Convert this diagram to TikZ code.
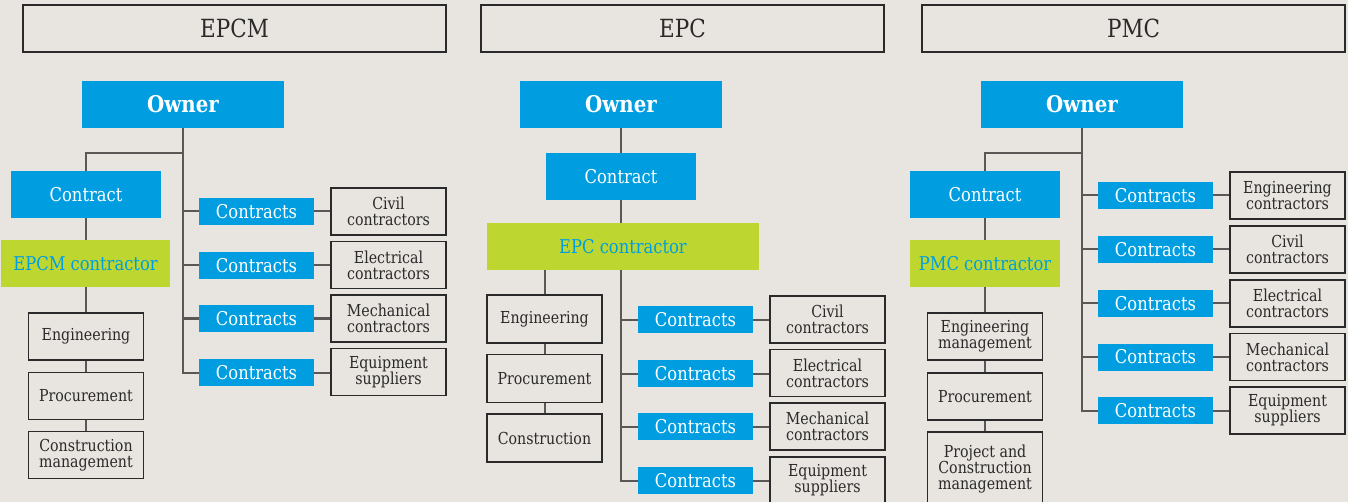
\documentclass[tikz,border=0pt]{standalone}
\usepackage{fontspec}
\setmainfont{DejaVu Serif}[FakeStretch=0.86]
\usetikzlibrary{calc}
\definecolor{bg}{HTML}{E8E4DF}
\definecolor{cblue}{HTML}{009EE0}
\definecolor{cgreen}{HTML}{BED730}
\definecolor{ink}{HTML}{2A2A2A}
\definecolor{wire}{HTML}{5A5856}
\tikzset{
  box/.style={draw=ink, line width=1.3pt, fill=none, inner sep=0pt, align=center, text=ink,
    minimum width=115pt, minimum height=47pt, font=\fontsize{16.5}{16}\selectfont},
  hdr/.style={draw=ink, line width=1.3pt, inner sep=0pt, text=ink, minimum height=47pt,
    font=\fontsize{25}{26}\selectfont},
  owner/.style={fill=cblue, inner sep=0pt, text=white, minimum width=202pt, minimum height=47pt,
    font=\fontsize{23}{24}\selectfont\bfseries},
  contract/.style={fill=cblue, inner sep=0pt, text=white, minimum width=150pt, minimum height=47pt,
    font=\fontsize{19}{20}\selectfont},
  contracts/.style={fill=cblue, inner sep=0pt, text=white, minimum width=115pt, minimum height=27pt,
    font=\fontsize{19}{20}\selectfont},
  green/.style={fill=cgreen, inner sep=0pt, text=cblue, minimum height=47pt,
    font=\fontsize{19}{20}\selectfont},
  wire/.style={draw=wire, line width=2pt}
}
\begin{document}
\begin{tikzpicture}[x=1pt,y=-1pt]
\useasboundingbox (0,0) rectangle (1348,502);
\fill[bg] (0,0) rectangle (1348,502);

% headers
\node[hdr, minimum width=423pt] (h1) at (234.5,28.5) {EPCM};
\node[hdr, minimum width=403pt] (h2) at (682.5,28.5) {EPC};
\node[hdr, minimum width=423pt] (h3) at (1133.5,28.5) {PMC};

% ===== EPCM =====
\node[owner] (o1) at (183,104.5) {Owner};
\node[contract] (c1) at (86,194.5) {Contract};
\node[green, minimum width=169pt] (g1) at (85.5,263.5) {EPCM contractor};
\node[box] (e1) at (86,336.5) {Engineering};
\node[box] (p1) at (86,396) {Procurement};
\node[box] (m1) at (86,455) {Construction\\management};
\node[contracts] (k11) at (256.5,211.5) {Contracts};
\node[contracts] (k12) at (256.5,265.5) {Contracts};
\node[contracts] (k13) at (256.5,318.5) {Contracts};
\node[contracts] (k14) at (256.5,372.5) {Contracts};
\node[box] (r11) at (388.5,211.5) {Civil\\contractors};
\node[box] (r12) at (388.5,265) {Electrical\\contractors};
\node[box] (r13) at (388.5,318.5) {Mechanical\\contractors};
\node[box] (r14) at (388.5,372) {Equipment\\suppliers};

\draw[wire] (o1.south) |- (k14.west);
\foreach \i in {1,2,3} {\draw[wire] (o1.south |- k1\i.west) -- (k1\i.west);}
\foreach \i in {1,2,3,4} {\draw[wire] (k1\i.east) -- (k1\i.east -| r1\i.west);}
\draw[wire] (o1.south) -- ++(0,24.5) -| (c1.north);
\draw[wire] (c1.south) -- (c1.south |- g1.north);
\draw[wire] (c1.south |- g1.south) -- (c1.south |- e1.north);
\draw[wire] (e1) -- (p1);
\draw[wire] (p1) -- (m1);

% ===== EPC =====
\node[owner] (o2) at (621,104.5) {Owner};
\node[contract] (c2) at (621,176.5) {Contract};
\node[green, minimum width=272pt] (g2) at (623,246.5) {EPC contractor};
\node[box, minimum height=48pt] (e2) at (544.5,319) {Engineering};
\node[box, minimum height=48pt] (p2) at (544.5,378.5) {Procurement};
\node[box, minimum height=48pt] (m2) at (544.5,438) {Construction};
\node[contracts] (k21) at (695.5,319.5) {Contracts};
\node[contracts] (k22) at (695.5,373.5) {Contracts};
\node[contracts] (k23) at (695.5,426.5) {Contracts};
\node[contracts] (k24) at (695.5,480.5) {Contracts};
\node[box] (r21) at (827.5,319.5) {Civil\\contractors};
\node[box] (r22) at (827.5,373) {Electrical\\contractors};
\node[box] (r23) at (827.5,426.5) {Mechanical\\contractors};
\node[box] (r24) at (827.5,480.5) {Equipment\\suppliers};

\draw[wire] (o2) -- (c2);
\draw[wire] (c2) -- (c2.south |- g2.north);
\draw[wire] (c2.south |- g2.south) |- (k24.west);
\foreach \i in {1,2,3} {\draw[wire] (c2.south |- k2\i.west) -- (k2\i.west);}
\foreach \i in {1,2,3,4} {\draw[wire] (k2\i.east) -- (k2\i.east -| r2\i.west);}
\draw[wire] (e2.north |- g2.south) -- (e2.north);
\draw[wire] (e2) -- (p2);
\draw[wire] (p2) -- (m2);

% ===== PMC =====
\node[owner] (o3) at (1082,104.5) {Owner};
\node[contract] (c3) at (985,194.5) {Contract};
\node[green, minimum width=150pt] (g3) at (985,263.5) {PMC contractor};
\node[box] (e3) at (985,336.5) {Engineering\\management};
\node[box] (p3) at (985,396.5) {Procurement};
\node[box, minimum height=74pt] (m3) at (985,469) {Project and\\Construction\\management};
\node[contracts] (k31) at (1155.5,195.5) {Contracts};
\node[contracts] (k32) at (1155.5,249.5) {Contracts};
\node[contracts] (k33) at (1155.5,303.5) {Contracts};
\node[contracts] (k34) at (1155.5,357) {Contracts};
\node[contracts] (k35) at (1155.5,410.5) {Contracts};
\node[box] (r31) at (1287.5,195.5) {Engineering\\contractors};
\node[box] (r32) at (1287.5,249.5) {Civil\\contractors};
\node[box] (r33) at (1287.5,303.5) {Electrical\\contractors};
\node[box] (r34) at (1287.5,357) {Mechanical\\contractors};
\node[box] (r35) at (1287.5,410.5) {Equipment\\suppliers};

\draw[wire] (o3.south) |- (k35.west);
\foreach \i in {1,2,3,4} {\draw[wire] (o3.south |- k3\i.west) -- (k3\i.west);}
\foreach \i in {1,2,3,4,5} {\draw[wire] (k3\i.east) -- (k3\i.east -| r3\i.west);}
\draw[wire] (o3.south) -- ++(0,24.5) -| (c3.north);
\draw[wire] (c3) -- (g3);
\draw[wire] (g3.south) -- (e3.north);
\draw[wire] (e3) -- (p3);
\draw[wire] (p3) -- (m3);
\end{tikzpicture}
\end{document}
